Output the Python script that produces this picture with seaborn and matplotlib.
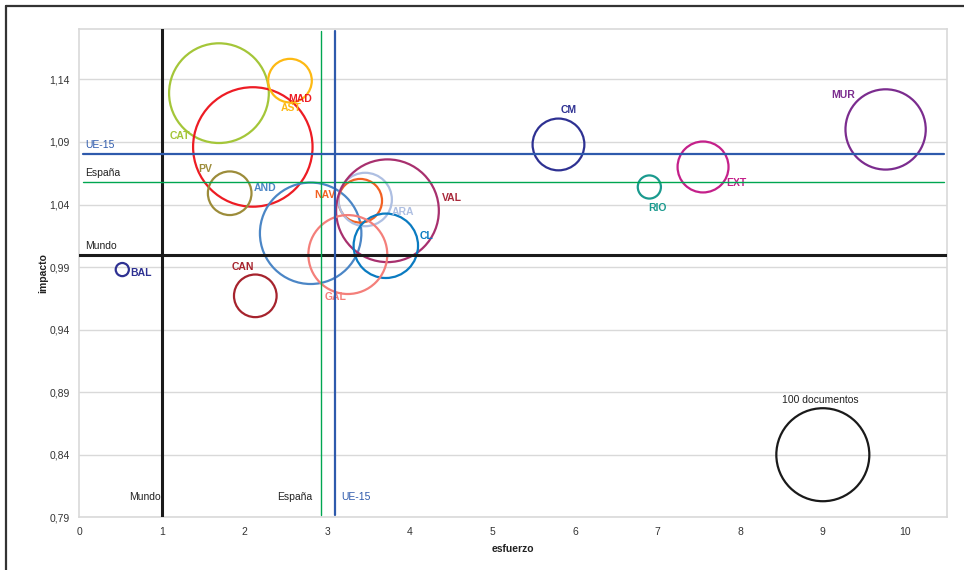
import pandas as pd
import numpy as np
import matplotlib.pyplot as plt
import seaborn as sns
from matplotlib.lines import Line2D

# datos por comunidad
regiones = ['CAT', 'MAD', 'AST', 'PV', 'AND', 'NAV', 'ARA', 'VAL',
            'CL', 'GAL', 'CAN', 'BAL', 'CM', 'RIO', 'EXT', 'MUR']
esfuerzo = [1.69, 2.10, 2.55, 1.82, 2.80, 3.40, 3.46, 3.73,
            3.71, 3.25, 2.13, 0.52, 5.80, 6.90, 7.55, 9.76]
impacto = [1.129, 1.086, 1.139, 1.049, 1.017, 1.043, 1.044, 1.035,
           1.007, 1.000, 0.967, 0.988, 1.088, 1.054, 1.070, 1.100]
documentos = [115, 165, 22, 22, 119, 22, 33, 122,
              48, 72, 21, 2, 31, 6.2, 30, 74.5]
colores = ['#A4C639', '#ED1C24', '#FDB913', '#9C8C3A', '#4B86C6', '#F26122',
           '#AEBFE2', '#A8306E', '#0A7BC1', '#F47F7A', '#A6232D', '#2E3192',
           '#2E3192', '#1A9A8E', '#C4208A', '#7B2C8E']
color_texto = {'VAL': '#A8283A'}
# desplazamiento de las etiquetas (pixeles)
etiqueta_dx = [-39, 47, 1, -25, -46, -35, 38, 64, 41, -12, -12, 19, 10, 8, 33, -42]
etiqueta_dy = [-43, 48, -27, 24, 45, 6, -12, 13, 10, -42, 29, -3, 34, -21, -16, 34]

# referencias
ref_nombres = ['Mundo', 'España', 'UE-15']
ref_esfuerzo = [1.0, 2.92, 3.09]
ref_impacto = [1.0, 1.058, 1.08]
ref_colores = ['#1A1A1A', '#00A651', '#2E5AAC']
ref_anchos = [2.2, 1.0, 1.6]

# burbuja de escala
escala_docs = 100
escala_x = 9.0
escala_y = 0.84

xticks = [0, 1, 2, 3, 4, 5, 6, 7, 8, 9, 10]
yticks = [0.79, 0.84, 0.89, 0.94, 0.99, 1.04, 1.09, 1.14]

sns.set_style('white')
plt.rcParams['font.family'] = ['Liberation Sans', 'DejaVu Sans']

fig = plt.figure(figsize=(9.64, 5.70), dpi=100)
ax = fig.add_axes([0.0823, 0.0925, 0.8998, 0.856])

# area de la burbuja proporcional a documentos: 100 docs -> ~47 px de radio
s_100 = (2 * 46.5 * 0.72) ** 2
df = pd.DataFrame({'region': regiones, 'esfuerzo': esfuerzo, 'impacto': impacto,
                   'docs': documentos})
tamanos = {r: d / escala_docs * s_100 for r, d in zip(regiones, documentos)}
paleta = dict(zip(regiones, colores))

sns.scatterplot(data=df, x='esfuerzo', y='impacto', hue='region', palette=paleta,
                size='region', sizes=tamanos, legend=False, linewidth=1.6, ax=ax, zorder=3)
coll = ax.collections[-1]
coll.set_edgecolor(coll.get_facecolor())
coll.set_facecolor('none')

sns.scatterplot(x=[escala_x], y=[escala_y], s=s_100, facecolor='none',
                edgecolor='#1A1A1A', linewidth=1.6, ax=ax, zorder=3)
ax.annotate(f'{escala_docs} documentos', (escala_x, escala_y), xytext=(-3, 55),
            textcoords='offset pixels', ha='center', va='center', fontsize=7.5,
            color='#222222')

for i, r in enumerate(regiones):
    ax.annotate(r, (esfuerzo[i], impacto[i]),
                xytext=(etiqueta_dx[i], etiqueta_dy[i]), textcoords='offset pixels',
                ha='center', va='center', fontsize=7.5, fontweight='bold',
                color=color_texto.get(r, colores[i]), zorder=4)

# lineas de referencia
for nombre, xv, yv, c, lw in zip(ref_nombres, ref_esfuerzo, ref_impacto, ref_colores, ref_anchos):
    if nombre == 'Mundo':
        ax.axhline(yv, color=c, lw=lw, zorder=4)
        ax.axvline(xv, color=c, lw=lw, zorder=4)
    else:
        ax.axhline(yv, xmin=0.004, xmax=0.997, color=c, lw=lw, zorder=4)
        ax.axvline(xv, ymin=0.005, ymax=0.997, color=c, lw=lw, zorder=4)
    tc = c if nombre == 'UE-15' else '#222222'
    ax.annotate(nombre, (0.07, yv), xytext=(0, 4), textcoords='offset pixels',
                ha='left', va='bottom', fontsize=7.5, color=tc)
    if nombre == 'UE-15':
        ax.annotate(nombre, (xv, 0.806), xytext=(7, 0), textcoords='offset pixels',
                    ha='left', va='center', fontsize=7.5, color=tc)
    else:
        ax.annotate(nombre, (xv, 0.806), xytext=(-1 if nombre == 'Mundo' else -8, 0),
                    textcoords='offset pixels', ha='right', va='center',
                    fontsize=7.5, color=tc)

ax.set_xlim(0, 10.5)
ax.set_ylim(0.79, 1.18)
ax.set_xticks(xticks)
ax.set_xticklabels([str(t) for t in xticks])
ax.set_yticks(yticks)
ax.set_yticklabels([f'{t:.2f}'.replace('.', ',') for t in yticks])
ax.tick_params(axis='both', length=0, labelsize=7.5, labelcolor='#333333')
ax.tick_params(axis='y', pad=7)
ax.tick_params(axis='x', pad=7)
ax.yaxis.grid(True, color='#D9D9D9', lw=1)
ax.xaxis.grid(False)
ax.set_axisbelow(True)
for sp in ax.spines.values():
    sp.set_color('#D9D9D9')
    sp.set_linewidth(1.2)

ax.set_xlabel('esfuerzo', fontsize=7.5, fontweight='bold', color='#222222', labelpad=5)
ax.set_ylabel('impacto', fontsize=7.5, fontweight='bold', color='#222222', labelpad=1)

# marco exterior
fig.add_artist(Line2D([6 / 964, 1], [1 - 6 / 570, 1 - 6 / 570], transform=fig.transFigure,
                      color='#333333', lw=1.6))
fig.add_artist(Line2D([6 / 964, 6 / 964], [0, 1 - 6 / 570], transform=fig.transFigure,
                      color='#333333', lw=1.6))

fig.savefig('out.png', dpi=100)
